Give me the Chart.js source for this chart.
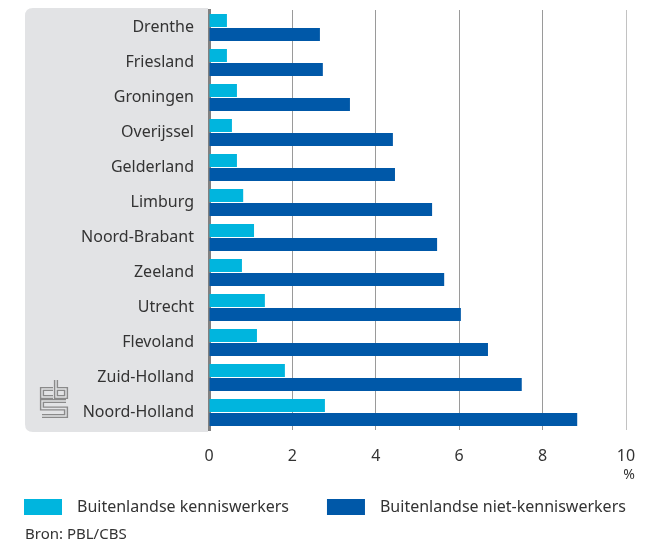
<!DOCTYPE html>
<html>
<head>
<meta charset="utf-8">
<script src="https://cdn.jsdelivr.net/npm/chart.js@4.4.1/dist/chart.umd.min.js"></script>
<style>
  html, body { margin: 0; padding: 0; background: #fff; }
  #wrap { width: 653px; height: 545px; }
</style>
</head>
<body>
<div id="wrap"><canvas id="chart" width="653" height="545"></canvas></div>
<script>
const provinces = ['Drenthe', 'Friesland', 'Groningen', 'Overijssel', 'Gelderland', 'Limburg',
    'Noord-Brabant', 'Zeeland', 'Utrecht', 'Flevoland', 'Zuid-Holland', 'Noord-Holland'];
const kenniswerkers = [0.43, 0.43, 0.67, 0.55, 0.67, 0.82, 1.08, 0.79, 1.34, 1.15, 1.82, 2.78];
const nietKenniswerkers = [2.66, 2.73, 3.38, 4.41, 4.46, 5.35, 5.47, 5.64, 6.04, 6.69, 7.5, 8.83];
const seriesNames = ['Buitenlandse kenniswerkers', 'Buitenlandse niet-kenniswerkers'];
const source = 'Bron: PBL/CBS';
const unit = '%';

const textColor = '#333333';
const panelColor = '#e2e3e5';
const fontFamily = '"Noto Sans", sans-serif';

// grey label panel with the cbs logo, legend, unit and source texts
const decorations = {
    id: 'decorations',
    beforeDraw(chart) {
        const { ctx, chartArea } = chart;
        const x0 = 25, x1 = chartArea.left - 1, y0 = chartArea.top - 2, y1 = chartArea.bottom + 2, r = 8;
        ctx.save();
        ctx.fillStyle = panelColor;
        ctx.beginPath();
        ctx.moveTo(x1, y0);
        ctx.lineTo(x0 + r, y0);
        ctx.quadraticCurveTo(x0, y0, x0, y0 + r);
        ctx.lineTo(x0, y1 - r);
        ctx.quadraticCurveTo(x0, y1, x0 + r, y1);
        ctx.lineTo(x1, y1);
        ctx.closePath();
        ctx.fill();

        // logo: thick grey strokes hollowed out with the panel colour
        const paths = [
            [[53, 389], [42, 389], [42, 397], [53, 397]],
            [[56, 380], [56, 397], [66, 397], [66, 389], [56, 389]],
            [[66, 401], [42, 401], [42, 408.5], [66, 408.5], [66, 416], [42, 416]]
        ];
        ctx.lineJoin = 'miter';
        ctx.lineCap = 'butt';
        [[4.2, '#8a8a8a'], [1.4, panelColor]].forEach(([w, c]) => {
            ctx.lineWidth = w;
            ctx.strokeStyle = c;
            paths.forEach(p => {
                ctx.beginPath();
                p.forEach(([px, py], i) => i ? ctx.lineTo(px, py) : ctx.moveTo(px, py));
                ctx.stroke();
            });
        });
        ctx.restore();
    },
    afterDraw(chart) {
        const { ctx, chartArea } = chart;
        ctx.save();
        ctx.fillStyle = textColor;
        ctx.textBaseline = 'middle';
        ctx.font = '14px ' + fontFamily;
        ctx.textAlign = 'center';
        ctx.fillText(unit, chartArea.right + 3, 475);

        // legend from the datasets
        ctx.font = '16px ' + fontFamily;
        ctx.textAlign = 'left';
        let x = 24;
        chart.data.datasets.forEach(ds => {
            ctx.fillStyle = ds.backgroundColor;
            ctx.fillRect(x, 499, 38, 16);
            ctx.fillStyle = textColor;
            ctx.fillText(ds.label, x + 53, 507);
            x += 53 + ctx.measureText(ds.label).width + 38;
        });

        ctx.font = '15px ' + fontFamily;
        ctx.fillText(source, 25, 535);
        ctx.restore();
    }
};

new Chart(document.getElementById('chart'), {
    type: 'bar',
    data: {
        labels: provinces,
        datasets: [{
            label: seriesNames[0],
            data: kenniswerkers,
            backgroundColor: '#00b5de',
            borderWidth: 0,
            categoryPercentage: 0.8,
            barPercentage: 0.93
        }, {
            label: seriesNames[1],
            data: nietKenniswerkers,
            backgroundColor: '#0058a8',
            borderWidth: 0,
            categoryPercentage: 0.8,
            barPercentage: 0.93
        }]
    },
    options: {
        indexAxis: 'y',
        responsive: false,
        animation: false,
        layout: { padding: { left: 17, right: 27, top: 10, bottom: 84 } },
        plugins: {
            legend: { display: false },
            tooltip: { enabled: false }
        },
        scales: {
            x: {
                min: 0,
                max: 10,
                ticks: {
                    stepSize: 2,
                    padding: 17,
                    color: textColor,
                    font: { family: fontFamily, size: 16 }
                },
                grid: {
                    drawTicks: false,
                    color: c => c.tick && c.tick.value === 0 ? 'rgba(0,0,0,0)'
                        : (c.tick && c.tick.value === 10 ? '#c2c2c2' : '#9a9a9a'),
                    lineWidth: 1
                },
                border: { display: false },
                afterFit(scale) { scale.height = 31; }
            },
            y: {
                ticks: {
                    padding: 15,
                    color: textColor,
                    font: { family: fontFamily, size: 16 }
                },
                grid: { display: false, drawTicks: false },
                border: { display: true, color: '#808080', width: 3 },
                afterFit(scale) {
                    scale.width = 192;
                    scale.paddingTop = 0;
                    scale.paddingBottom = 0;
                }
            }
        }
    },
    plugins: [decorations]
});
</script>
</body>
</html>
